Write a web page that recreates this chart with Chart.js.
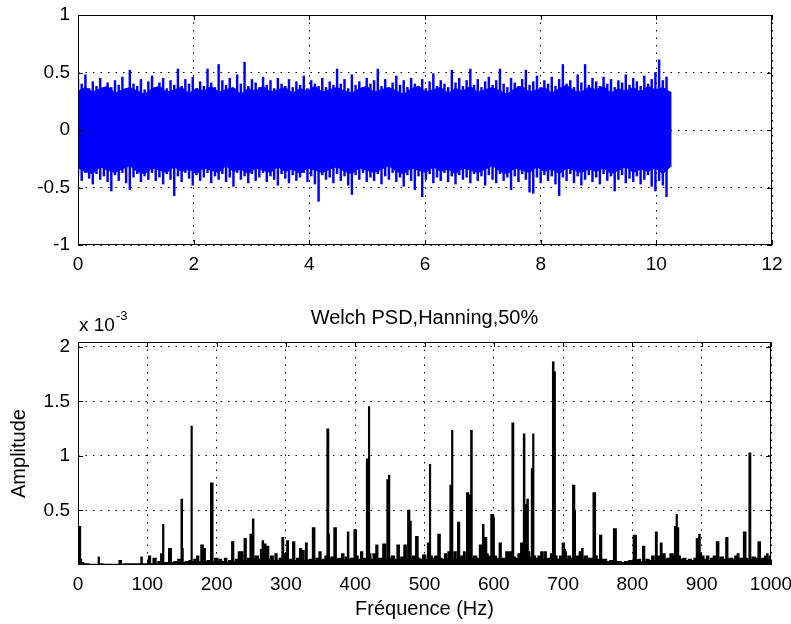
<!DOCTYPE html>
<html>
<head>
<meta charset="utf-8">
<script src="https://cdn.jsdelivr.net/npm/chart.js@4.4.0/dist/chart.umd.min.js"></script>
<style>
  html, body { margin: 0; padding: 0; background: #fff; }
  #wrap { position: relative; width: 791px; height: 624px; }
  #signalChart { position: absolute; left: 0; top: 0; }
  #psdChart { position: absolute; left: 0; top: 290px; }
</style>
</head>
<body>
<div id="wrap">
  <canvas id="signalChart" width="791" height="290"></canvas>
  <canvas id="psdChart" width="791" height="334"></canvas>
</div>
<script>
// ---- top plot: time signal ----
// highest / lowest excursion seen in each 64 ms slice
const sampleStep = 0.064;
const signalPeaks = [
  0.44, 0.40, 0.48, 0.36, 0.42, 0.38, 0.45, 0.35, 0.41, 0.37,
  0.43, 0.39, 0.46, 0.36, 0.52, 0.40, 0.38, 0.44, 0.35, 0.42,
  0.47, 0.37, 0.41, 0.45, 0.36, 0.43, 0.39, 0.53, 0.38, 0.44,
  0.40, 0.46, 0.36, 0.42, 0.38, 0.53, 0.41, 0.37, 0.57, 0.43,
  0.39, 0.45, 0.36, 0.48, 0.40, 0.59, 0.38, 0.44, 0.41, 0.37,
  0.46, 0.39, 0.43, 0.36, 0.45, 0.40, 0.38, 0.44, 0.37, 0.42,
  0.39, 0.47, 0.36, 0.43, 0.40, 0.38, 0.45, 0.37, 0.42, 0.39,
  0.53, 0.40, 0.44, 0.36, 0.48, 0.39, 0.42, 0.37, 0.45, 0.40,
  0.43, 0.53, 0.38, 0.44, 0.36, 0.41, 0.47, 0.39, 0.43, 0.37,
  0.45, 0.40, 0.38, 0.44, 0.36, 0.42, 0.49, 0.38, 0.43, 0.40,
  0.37, 0.52, 0.41, 0.45, 0.38, 0.43, 0.53, 0.39, 0.44, 0.37,
  0.42, 0.46, 0.39, 0.43, 0.53, 0.40, 0.37, 0.45, 0.41, 0.38,
  0.44, 0.52, 0.39, 0.42, 0.47, 0.37, 0.43, 0.40, 0.46, 0.38,
  0.44, 0.57, 0.40, 0.43, 0.37, 0.48, 0.41, 0.57, 0.39, 0.45,
  0.42, 0.38, 0.46, 0.40, 0.44, 0.37, 0.43, 0.41, 0.48, 0.39,
  0.45, 0.42, 0.38, 0.47, 0.40, 0.44, 0.50, 0.61, 0.43, 0.46,
  0.33
];
const signalTroughs = [
  -0.40, -0.44, -0.37, -0.42, -0.47, -0.38, -0.43, -0.40, -0.45, -0.53,
  -0.39, -0.44, -0.37, -0.46, -0.52, -0.41, -0.38, -0.45, -0.40, -0.43,
  -0.37, -0.44, -0.41, -0.47, -0.38, -0.43, -0.57, -0.40, -0.45, -0.37,
  -0.42, -0.48, -0.39, -0.44, -0.41, -0.37, -0.46, -0.40, -0.43, -0.38,
  -0.45, -0.41, -0.49, -0.37, -0.43, -0.40, -0.46, -0.38, -0.44, -0.41,
  -0.37, -0.45, -0.40, -0.43, -0.48, -0.38, -0.42, -0.46, -0.39, -0.44,
  -0.41, -0.37, -0.45, -0.40, -0.47, -0.62, -0.39, -0.43, -0.41, -0.46,
  -0.38, -0.44, -0.40, -0.48, -0.56, -0.39, -0.43, -0.37, -0.45, -0.41,
  -0.44, -0.38, -0.47, -0.40, -0.43, -0.37, -0.45, -0.41, -0.49, -0.39,
  -0.44, -0.52, -0.40, -0.58, -0.43, -0.38, -0.46, -0.41, -0.44, -0.37,
  -0.45, -0.40, -0.47, -0.39, -0.43, -0.41, -0.46, -0.38, -0.44, -0.40,
  -0.48, -0.39, -0.43, -0.46, -0.38, -0.44, -0.41, -0.52, -0.40, -0.45,
  -0.38, -0.43, -0.54, -0.55, -0.41, -0.46, -0.39, -0.44, -0.40, -0.47,
  -0.57, -0.41, -0.44, -0.38, -0.46, -0.40, -0.48, -0.43, -0.39, -0.45,
  -0.41, -0.47, -0.38, -0.44, -0.40, -0.53, -0.43, -0.39, -0.46, -0.42,
  -0.45, -0.40, -0.47, -0.43, -0.39, -0.49, -0.53, -0.44, -0.48, -0.58,
  -0.32
];
// edge of the solid part of the band, one value every 0.128 s
const coreStep = 0.128;
const coreTop = [
  0.34, 0.37, 0.33, 0.36, 0.38, 0.32, 0.35, 0.37, 0.34, 0.31,
  0.36, 0.38, 0.33, 0.35, 0.37, 0.32, 0.36, 0.34, 0.38, 0.33,
  0.35, 0.37, 0.31, 0.36, 0.34, 0.38, 0.33, 0.35, 0.37, 0.32,
  0.36, 0.34, 0.38, 0.33, 0.35, 0.37, 0.34, 0.32, 0.36, 0.38,
  0.33, 0.35, 0.37, 0.34, 0.31, 0.36, 0.38, 0.33, 0.35, 0.37,
  0.32, 0.36, 0.34, 0.38, 0.33, 0.35, 0.37, 0.34, 0.31, 0.36,
  0.38, 0.33, 0.35, 0.37, 0.32, 0.36, 0.39, 0.34, 0.33, 0.37,
  0.35, 0.38, 0.32, 0.36, 0.34, 0.37, 0.33, 0.38, 0.35, 0.37,
  0.33
];
const coreBottom = [
  -0.33, -0.36, -0.38, -0.32, -0.35, -0.37, -0.34, -0.31, -0.36, -0.38,
  -0.33, -0.35, -0.37, -0.32, -0.36, -0.34, -0.38, -0.33, -0.35, -0.37,
  -0.31, -0.36, -0.34, -0.38, -0.33, -0.35, -0.37, -0.32, -0.36, -0.34,
  -0.38, -0.33, -0.35, -0.37, -0.34, -0.32, -0.36, -0.38, -0.33, -0.35,
  -0.37, -0.34, -0.31, -0.36, -0.38, -0.33, -0.35, -0.37, -0.32, -0.36,
  -0.34, -0.38, -0.33, -0.35, -0.37, -0.34, -0.31, -0.36, -0.38, -0.33,
  -0.35, -0.37, -0.32, -0.36, -0.34, -0.38, -0.33, -0.35, -0.37, -0.34,
  -0.36, -0.33, -0.38, -0.35, -0.32, -0.37, -0.34, -0.36, -0.33, -0.38,
  -0.32
];
const timeTicks = [0, 2, 4, 6, 8, 10, 12];
const signalTicks = [-1, -0.5, 0, 0.5, 1];

// ---- bottom plot: Welch PSD, amplitude in units of 1e-3 ----
const psdFreq = [
  0, 1, 2, 3, 4, 6, 10, 20, 29, 30, 31, 40, 59, 60, 61, 62, 63, 70, 80, 90,
  92, 93, 100, 104, 105, 112, 113, 118, 121, 122, 123, 124, 128, 134, 135, 142, 146, 148, 150, 151,
  152, 158, 163, 164, 165, 170, 173, 175, 180, 181, 183, 184, 189, 194, 195, 200, 203, 205, 209, 214,
  215, 220, 224, 225, 230, 233, 234, 237, 238, 242, 243, 247, 250, 251, 253, 254, 258, 262, 265, 267,
  268, 270, 272, 274, 276, 280, 283, 286, 288, 293, 296, 297, 300, 303, 304, 308, 312, 313, 318, 322,
  323, 325, 327, 330, 331, 336, 341, 342, 346, 350, 351, 355, 358, 361, 362, 363, 367, 372, 373, 378,
  383, 384, 388, 390, 391, 396, 401, 402, 406, 410, 411, 415, 418, 419, 420, 421, 424, 428, 432, 433,
  437, 443, 444, 448, 449, 450, 455, 458, 463, 464, 468, 473, 474, 478, 479, 480, 481, 485, 490, 491,
  495, 500, 503, 506, 507, 508, 509, 513, 517, 522, 523, 527, 531, 532, 536, 538, 539, 540, 541, 545,
  546, 550, 551, 555, 558, 559, 563, 564, 565, 566, 568, 569, 573, 577, 582, 583, 585, 586, 589, 590,
  593, 599, 600, 601, 606, 610, 611, 615, 620, 621, 624, 625, 628, 629, 633, 637, 641, 642, 644, 645,
  646, 647, 649, 650, 653, 656, 657, 658, 662, 666, 670, 671, 675, 676, 680, 684, 686, 687, 688, 689,
  693, 697, 701, 702, 704, 705, 709, 712, 716, 717, 718, 722, 725, 726, 728, 729, 733, 737, 741, 746,
  747, 751, 755, 756, 760, 765, 770, 776, 777, 782, 786, 792, 798, 805, 806, 810, 813, 817, 818, 822,
  826, 830, 832, 835, 836, 839, 842, 843, 846, 848, 852, 857, 860, 862, 863, 864, 865, 866, 867, 871,
  875, 879, 883, 887, 891, 894, 895, 897, 898, 901, 905, 909, 911, 915, 919, 924, 925, 929, 933, 937,
  938, 942, 946, 950, 953, 954, 958, 963, 964, 967, 970, 971, 975, 979, 984, 985, 989, 993, 995, 996, 1000
];
const psdAmp = [
  0.30, 0.34, 0.12, 0.35, 0.05, 0.02, 0.01, 0.005, 0.005, 0.07, 0.01, 0.005, 0.005, 0.04, 0.01, 0.04, 0.005, 0.01, 0.01, 0.01,
  0.07, 0.01, 0.01, 0.08, 0.01, 0.06, 0.01, 0.03, 0.10, 0.02, 0.37, 0.02, 0.02, 0.15, 0.02, 0.03, 0.05, 0.02, 0.60, 0.15,
  0.02, 0.03, 0.04, 1.27, 0.03, 0.05, 0.08, 0.03, 0.18, 0.03, 0.15, 0.03, 0.04, 0.75, 0.03, 0.06, 0.03, 0.05, 0.03, 0.06,
  0.02, 0.04, 0.21, 0.03, 0.05, 0.12, 0.03, 0.12, 0.04, 0.24, 0.04, 0.06, 0.28, 0.05, 0.42, 0.05, 0.08, 0.05, 0.14, 0.22,
  0.12, 0.19, 0.10, 0.17, 0.05, 0.08, 0.04, 0.10, 0.04, 0.06, 0.25, 0.06, 0.10, 0.22, 0.04, 0.05, 0.21, 0.04, 0.06, 0.15,
  0.08, 0.13, 0.04, 0.20, 0.04, 0.05, 0.34, 0.04, 0.06, 0.12, 0.04, 0.05, 0.08, 1.245, 0.28, 0.05, 0.07, 0.34, 0.05, 0.06,
  0.10, 0.04, 0.07, 0.30, 0.05, 0.06, 0.32, 0.08, 0.05, 0.12, 0.05, 0.06, 0.97, 0.30, 1.45, 0.10, 0.05, 0.10, 0.18, 0.05,
  0.06, 0.19, 0.05, 0.78, 0.82, 0.06, 0.08, 0.05, 0.18, 0.05, 0.07, 0.18, 0.05, 0.50, 0.25, 0.40, 0.06, 0.08, 0.26, 0.06,
  0.05, 0.09, 0.05, 0.20, 0.08, 0.92, 0.08, 0.06, 0.08, 0.28, 0.06, 0.05, 0.10, 0.05, 0.12, 0.73, 0.10, 1.23, 0.06, 0.12,
  0.05, 0.39, 0.06, 0.08, 0.12, 0.06, 0.66, 0.50, 0.64, 0.07, 1.23, 0.06, 0.08, 0.06, 0.18, 0.10, 0.37, 0.12, 0.25, 0.10,
  0.08, 0.46, 0.43, 0.08, 0.06, 0.20, 0.05, 0.06, 0.12, 0.06, 0.12, 0.06, 1.30, 0.07, 0.06, 0.10, 0.20, 0.08, 1.20, 0.20,
  0.55, 0.30, 0.60, 0.12, 0.07, 0.88, 1.20, 0.08, 0.06, 0.08, 0.12, 0.05, 0.12, 0.05, 0.06, 0.10, 1.86, 0.30, 1.77, 0.08,
  0.05, 0.08, 0.20, 0.14, 0.12, 0.05, 0.08, 0.06, 0.73, 0.50, 0.07, 0.08, 0.12, 0.06, 0.15, 0.05, 0.08, 0.06, 0.06, 0.66,
  0.08, 0.05, 0.27, 0.05, 0.05, 0.03, 0.04, 0.33, 0.03, 0.03, 0.02, 0.03, 0.04, 0.27, 0.04, 0.05, 0.03, 0.17, 0.03, 0.05,
  0.04, 0.08, 0.04, 0.30, 0.05, 0.08, 0.20, 0.07, 0.10, 0.05, 0.06, 0.10, 0.08, 0.35, 0.22, 0.46, 0.30, 0.34, 0.08, 0.05,
  0.06, 0.04, 0.05, 0.04, 0.06, 0.24, 0.10, 0.28, 0.10, 0.08, 0.05, 0.08, 0.04, 0.06, 0.08, 0.21, 0.05, 0.07, 0.05, 0.25,
  0.05, 0.06, 0.05, 0.08, 0.10, 0.05, 0.06, 0.30, 0.06, 0.05, 1.025, 0.05, 0.07, 0.06, 0.21, 0.05, 0.06, 0.08, 0.10, 0.05, 0.08
];
const freqTicks = [0, 100, 200, 300, 400, 500, 600, 700, 800, 900, 1000];
const psdTicks = [0.5, 1, 1.5, 2];

const FONT = '"Liberation Sans", Arial, sans-serif';
Chart.defaults.font.family = FONT;
Chart.defaults.color = '#000';

// MATLAB style box with inward tick marks
const boxPlugin = {
  id: 'box',
  afterDraw(chart) {
    const { ctx, chartArea: a, scales } = chart;
    ctx.save();
    ctx.strokeStyle = '#000';
    ctx.lineWidth = 1;
    ctx.strokeRect(a.left + 0.5, a.top + 0.5, a.right - a.left - 1, a.bottom - a.top - 1);
    ctx.beginPath();
    scales.x.ticks.forEach(t => {
      const x = Math.round(scales.x.getPixelForValue(t.value)) + 0.5;
      ctx.moveTo(x, a.bottom); ctx.lineTo(x, a.bottom - 5);
      ctx.moveTo(x, a.top); ctx.lineTo(x, a.top + 5);
    });
    scales.y.ticks.forEach(t => {
      const y = Math.round(scales.y.getPixelForValue(t.value)) + 0.5;
      ctx.moveTo(a.left, y); ctx.lineTo(a.left + 5, y);
      ctx.moveTo(a.right, y); ctx.lineTo(a.right - 5, y);
    });
    ctx.stroke();
    ctx.restore();
  }
};

// title and "x 10^-3" above the PSD axes
const psdTextPlugin = {
  id: 'psdText',
  afterDraw(chart) {
    const { ctx, chartArea: a } = chart;
    ctx.save();
    ctx.fillStyle = '#000';
    ctx.textBaseline = 'middle';
    ctx.textAlign = 'center';
    ctx.font = '20px ' + FONT;
    ctx.fillText('Welch PSD,Hanning,50%', (a.left + a.right) / 2, 28);
    ctx.textAlign = 'left';
    ctx.textBaseline = 'alphabetic';
    ctx.font = '19px ' + FONT;
    ctx.fillText('x 10', a.left + 1, a.top - 11);
    const w = ctx.measureText('x 10').width;
    ctx.font = '13px ' + FONT;
    ctx.fillText('-3', a.left + 2 + w, a.top - 22);
    ctx.restore();
  }
};

function axis(min, max, tickList, size, extra) {
  return Object.assign({
    type: 'linear',
    min: min,
    max: max,
    offset: false,
    afterBuildTicks: s => { s.ticks = tickList.map(v => ({ value: v })); },
    afterFit: s => {
      if (s.isHorizontal()) { s.height = size; s.paddingLeft = 0; s.paddingRight = 0; }
      else { s.width = size; s.paddingTop = 0; s.paddingBottom = 0; }
    },
    grid: { color: '#000', lineWidth: 1, drawTicks: false, offset: false },
    border: { display: false, dash: [1.5, 6] },
    ticks: { padding: 8, font: { size: 19 }, color: '#000', maxRotation: 0, autoSkip: false,
             callback: v => String(v) }
  }, extra || {});
}

new Chart(document.getElementById('signalChart'), {
  type: 'line',
  data: {
    datasets: [
      {
        data: coreTop.map((v, i) => ({ x: i * coreStep, y: v })),
        borderColor: '#0000ff', borderWidth: 1, pointRadius: 0,
        fill: '+1', backgroundColor: '#0000ff'
      },
      {
        data: coreBottom.map((v, i) => ({ x: i * coreStep, y: v })),
        borderColor: '#0000ff', borderWidth: 1, pointRadius: 0, fill: false
      },
      {
        type: 'bar',
        data: signalPeaks.map((v, i) => ({ x: i * sampleStep, y: [signalTroughs[i], v] })),
        backgroundColor: '#0000ff', borderWidth: 0, barThickness: 1.8, grouped: false
      }
    ]
  },
  options: {
    responsive: false,
    animation: false,
    devicePixelRatio: 1,
    layout: { padding: { top: 15, right: 19, left: 0, bottom: 0 } },
    plugins: { legend: { display: false }, tooltip: { enabled: false } },
    scales: {
      x: axis(0, 12, timeTicks, 45),
      y: axis(-1, 1, signalTicks, 78)
    }
  },
  plugins: [boxPlugin]
});

new Chart(document.getElementById('psdChart'), {
  type: 'line',
  data: {
    datasets: [{
      data: psdFreq.map((f, i) => ({ x: f, y: psdAmp[i] })),
      borderColor: '#000', borderWidth: 1.5, pointRadius: 0,
      stepped: 'middle', fill: 'origin', backgroundColor: '#000'
    }]
  },
  options: {
    responsive: false,
    animation: false,
    devicePixelRatio: 1,
    layout: { padding: { top: 52, right: 20, left: 0, bottom: 0 } },
    plugins: { legend: { display: false }, tooltip: { enabled: false } },
    scales: {
      x: axis(0, 1000, freqTicks, 59, {
        title: { display: true, text: 'Fréquence (Hz)', font: { size: 20 }, color: '#000',
                 padding: { top: 0, bottom: 3 } }
      }),
      y: axis(0, 2.045, psdTicks, 78, {
        title: { display: true, text: 'Amplitude', font: { size: 20 }, color: '#000',
                 padding: { top: 7, bottom: 0 } }
      })
    }
  },
  plugins: [boxPlugin, psdTextPlugin]
});
</script>
</body>
</html>
